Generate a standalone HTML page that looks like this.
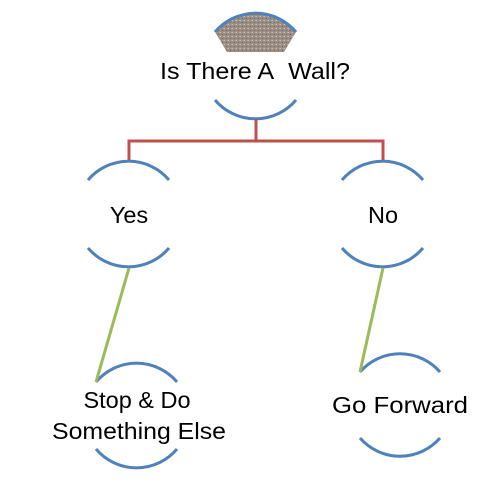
<!DOCTYPE html>
<html><head><style>html,body{margin:0;padding:0;background:#fff}svg{display:block}</style></head>
<body>
<svg width="482" height="482" viewBox="0 0 482 482" xmlns="http://www.w3.org/2000/svg">
<defs>
<pattern id="gr" width="4" height="4" patternUnits="userSpaceOnUse">
<rect width="4" height="4" fill="#9a8e84"/><rect x="0" y="0" width="1" height="1" fill="#c8bfb5"/><rect x="2" y="2" width="1" height="1" fill="#6e645c"/><rect x="3" y="0" width="1" height="1" fill="#b3a89d"/>
</pattern>
</defs>
<path d="M215 32 A53 53 0 0 1 296 32 L284 52 L227 52 Z" fill="url(#gr)"/>
<g fill="none" stroke="#4f81bd" stroke-width="3">
<path d="M215 32 A53 53 0 0 1 296 32"/>
<path d="M215 100 A53 53 0 0 0 296 100"/>
<path d="M88 180 A53 53 0 0 1 169 180"/>
<path d="M88 248 A53 53 0 0 0 169 248"/>
<path d="M342 180 A53 53 0 0 1 423 180"/>
<path d="M342 248 A53 53 0 0 0 423 248"/>
<path d="M96 382 A53 53 0 0 1 177 382"/>
<path d="M96 449 A53 53 0 0 0 177 449"/>
<path d="M360 372 A53 53 0 0 1 440 372"/>
<path d="M360 438 A53 53 0 0 0 440 438"/>
</g>
<g fill="none" stroke="#c0504d" stroke-width="3">
<path d="M256 119 V141 M129 160 V141 H383 V160"/>
</g>
<g stroke="#9bbb59" stroke-width="3">
<line x1="129" y1="268" x2="96" y2="382"/>
<line x1="383" y1="268" x2="360" y2="372"/>
</g>
<g font-family="Liberation Sans, sans-serif" font-size="23.5" fill="#000" text-anchor="middle">
<text x="255" y="79" textLength="190" lengthAdjust="spacingAndGlyphs">Is There A&#160; Wall?</text>
<text x="129" y="223">Yes</text>
<text x="383" y="223">No</text>
<text x="137" y="408">Stop &amp; Do</text>
<text x="139" y="439" textLength="174" lengthAdjust="spacingAndGlyphs">Something Else</text>
<text x="400" y="413" textLength="136" lengthAdjust="spacingAndGlyphs">Go Forward</text>
</g>
</svg>
</body></html>
